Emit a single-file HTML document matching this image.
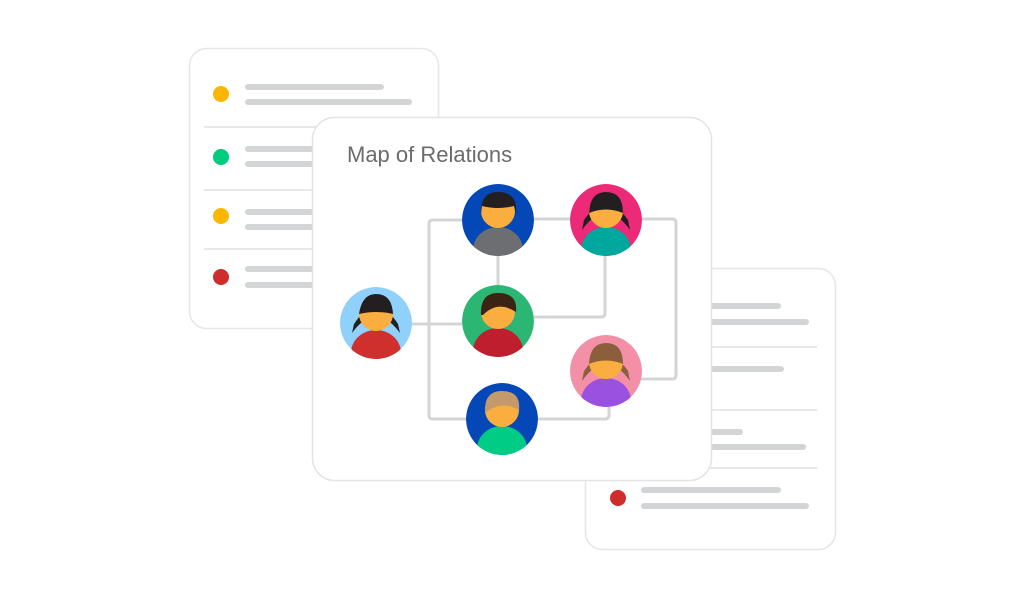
<!DOCTYPE html>
<html><head><meta charset="utf-8"><style>
html,body{margin:0;padding:0;background:#fff;width:1024px;height:598px;overflow:hidden}
</style></head><body>
<svg width="1024" height="598" viewBox="0 0 1024 598" xmlns="http://www.w3.org/2000/svg">
<defs>
<g id="av">
</g>
</defs>
<!-- left card -->
<rect x="189.5" y="48.5" width="249" height="280" rx="17" fill="#fff" stroke="#e6e6e6" stroke-width="1.5"/>
<g stroke="#e0e0e0" stroke-width="1.5"><line x1="204" y1="127" x2="438" y2="127"/><line x1="204" y1="190" x2="438" y2="190"/><line x1="204" y1="249" x2="438" y2="249"/></g>
<circle cx="221" cy="94" r="8" fill="#fbb600"/><circle cx="221" cy="157" r="8" fill="#00cc7e"/><circle cx="221" cy="216" r="8" fill="#fbb600"/><circle cx="221" cy="277" r="8" fill="#cf2d2d"/>
<g stroke="#d3d4d6" stroke-width="6" stroke-linecap="round">
<line x1="248" y1="87" x2="381" y2="87"/><line x1="248" y1="102" x2="409" y2="102"/>
<line x1="248" y1="149" x2="320" y2="149"/><line x1="248" y1="164" x2="320" y2="164"/>
<line x1="248" y1="212" x2="320" y2="212"/><line x1="248" y1="227" x2="320" y2="227"/>
<line x1="248" y1="269" x2="320" y2="269"/><line x1="248" y1="285" x2="320" y2="285"/>
</g>
<!-- right card -->
<rect x="585.5" y="268.5" width="250" height="281" rx="17" fill="#fff" stroke="#e6e6e6" stroke-width="1.5"/>
<g stroke="#e0e0e0" stroke-width="1.5"><line x1="700" y1="347" x2="817" y2="347"/><line x1="700" y1="410" x2="817" y2="410"/><line x1="700" y1="468" x2="817" y2="468"/></g>
<circle cx="618" cy="498" r="8" fill="#cf2d2d"/>
<g stroke="#d3d4d6" stroke-width="6" stroke-linecap="round">
<line x1="700" y1="306" x2="778" y2="306"/><line x1="700" y1="322" x2="806" y2="322"/>
<line x1="700" y1="369" x2="781" y2="369"/>
<line x1="700" y1="432" x2="740" y2="432"/><line x1="700" y1="447" x2="803" y2="447"/>
<line x1="644" y1="490" x2="778" y2="490"/><line x1="644" y1="506" x2="806" y2="506"/>
</g>
<!-- main card -->
<rect x="312.5" y="117.5" width="399" height="363" rx="22" fill="#fff" stroke="#e4e4e4" stroke-width="1.5"/>
<text x="347" y="162" font-family="Liberation Sans, sans-serif" font-size="22" fill="#6b6b6b">Map of Relations</text>
<!-- connectors -->
<g fill="none" stroke="#d5d5d5" stroke-width="3" stroke-linejoin="round">
<path d="M410 324 H462"/>
<path d="M462 220 H433 Q429 220 429 224 V415 Q429 419 433 419 H466"/>
<path d="M498 250 V290"/>
<path d="M534 219 H572"/>
<path d="M640 219 H672 Q676 219 676 223 V375 Q676 379 672 379 H640"/>
<path d="M534 317 H601 Q605 317 605 313 V250"/>
<path d="M538 419 H605 Q609 419 609 415 V400"/>
</g>
<!-- avatars -->
<defs>
<clipPath id="c1"><circle cx="376" cy="323" r="36"/></clipPath>
<clipPath id="c2"><circle cx="498" cy="220" r="36"/></clipPath>
<clipPath id="c3"><circle cx="606" cy="220" r="36"/></clipPath>
<clipPath id="c4"><circle cx="498" cy="321" r="36"/></clipPath>
<clipPath id="c5"><circle cx="606" cy="371" r="36"/></clipPath>
<clipPath id="c6"><circle cx="502" cy="419" r="36"/></clipPath>
</defs>
<!-- 1 -->
<g clip-path="url(#c1)"><circle cx="376" cy="323" r="36" fill="#90d1fb"/>
<path d="M352 333 Q376 300 400 333 L398 324 Q376 290 354 324Z" fill="#231f20"/>
<ellipse cx="376" cy="353" rx="25" ry="23" fill="#cf2f2d"/><circle cx="376" cy="314" r="17" fill="#f9ae3f"/>
<path d="M359 314 Q362 294 376 294 Q392 294 393 314 Q376 310 359 314Z" fill="#231f20"/></g>
<!-- 2 -->
<g clip-path="url(#c2)"><circle cx="498" cy="220" r="36" fill="#0447b7"/>
<ellipse cx="498" cy="250" rx="25" ry="23" fill="#6d6e71"/><circle cx="498" cy="211" r="17" fill="#f9ae3f"/>
<path d="M481 214 Q480 192 498 192 Q518 192 516 214 L514 206 Q498 210 482 206Z" fill="#231f20"/></g>
<!-- 3 -->
<g clip-path="url(#c3)"><circle cx="606" cy="220" r="36" fill="#ec2a78"/>
<path d="M582 230 Q606 196 630 230 L628 220 Q606 188 584 220Z" fill="#231f20"/>
<ellipse cx="606" cy="250" rx="25" ry="23" fill="#00a79d"/><circle cx="606" cy="211" r="17" fill="#f9ae3f"/>
<path d="M589 213 Q590 192 606 192 Q623 192 623 213 Q606 206 589 213Z" fill="#231f20"/></g>
<!-- 4 -->
<g clip-path="url(#c4)"><circle cx="498" cy="321" r="36" fill="#2bb673"/>
<ellipse cx="498" cy="351" rx="25" ry="23" fill="#be1e2d"/><circle cx="498" cy="312" r="17" fill="#f9ae3f"/>
<path d="M481 315 Q480 293 498 293 Q518 293 516 312 Q498 300 483 315Z" fill="#3c2415"/></g>
<!-- 5 -->
<g clip-path="url(#c5)"><circle cx="606" cy="371" r="36" fill="#f48fa8"/>
<path d="M582 381 Q606 347 630 381 L628 371 Q606 339 584 371Z" fill="#8b5e3c"/>
<ellipse cx="606" cy="401" rx="25" ry="23" fill="#9b51e0"/><circle cx="606" cy="362" r="17" fill="#f9ae3f"/>
<path d="M589 364 Q590 343 606 343 Q623 343 623 364 Q606 357 589 364Z" fill="#8b5e3c"/></g>
<!-- 6 -->
<g clip-path="url(#c6)"><circle cx="502" cy="419" r="36" fill="#0447b7"/>
<ellipse cx="502" cy="449" rx="25" ry="23" fill="#00cc86"/><circle cx="502" cy="410" r="17" fill="#f9ae3f"/>
<path d="M485 412 Q484 391 502 391 Q521 391 519 410 Q502 400 486 412Z" fill="#c49a6c"/></g>
</svg>
</body></html>
